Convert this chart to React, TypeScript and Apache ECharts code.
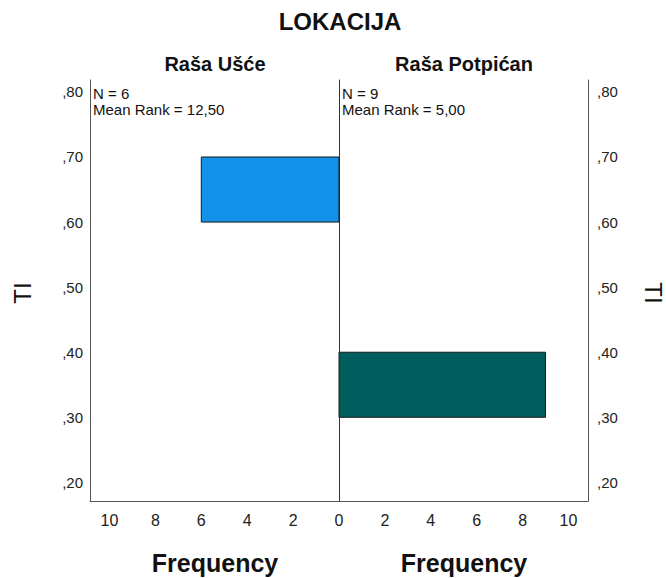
import React, { useEffect, useRef } from "react";
import * as echarts from "echarts";

// ---- data ----
const chartTitle = "LOKACIJA";
const groupNames = ["Raša Ušće", "Raša Potpićan"];
const groupN = [6, 9];
const meanRanks = ["12,50", "5,00"];
const yVarName = "TI";
const xAxisTitle = "Frequency";

// histogram bins: [frequency, binLow, binHigh]
const usceCounts = [6];
const usceBinLow = [0.6];
const usceBinHigh = [0.7];
const potpicanCounts = [9];
const potpicanBinLow = [0.3];
const potpicanBinHigh = [0.4];

const yTicks = [0.2, 0.3, 0.4, 0.5, 0.6, 0.7, 0.8];
const leftFreqTicks = [2, 4, 6, 8, 10];
const rightFreqTicks = [0, 2, 4, 6, 8, 10];

const Y_MIN = 0.1714;
const Y_MAX = 0.8183;
const X_MAX = 10.85;

const FONT = "'Liberation Sans', Arial, Helvetica, sans-serif";
const AXIS_COLOR = "#555";
const LABEL_COLOR = "#222";
const USCE_COLOR = "#1192e8";
const POTPICAN_COLOR = "#005d5d";

function rectRender(color: string) {
  return (params: any, api: any) => {
    const n = api.value(0);
    const lo = api.value(1);
    const hi = api.value(2);
    const p0 = api.coord([0, hi]);
    const p1 = api.coord([n, lo]);
    return {
      type: "rect",
      shape: {
        x: Math.min(p0[0], p1[0]),
        y: Math.min(p0[1], p1[1]),
        width: Math.abs(p1[0] - p0[0]),
        height: Math.abs(p1[1] - p0[1]),
      },
      style: { fill: color, stroke: "#1a1a1a", lineWidth: 1 },
    };
  };
}

const yLabelFmt = (v: number) => "," + v.toFixed(2).split(".")[1];

export default function App() {
  const ref = useRef<HTMLDivElement>(null);
  useEffect(() => {
    document.body.style.margin = "0";
    if (!ref.current) return;
    const chart = echarts.init(ref.current, null, { renderer: "svg" });

    const usceData = usceCounts.map((c, i) => [c, usceBinLow[i], usceBinHigh[i]]);
    const potData = potpicanCounts.map((c, i) => [c, potpicanBinLow[i], potpicanBinHigh[i]]);

    const xAxisCommon = {
      type: "value",
      min: 0,
      max: X_MAX,
      splitLine: { show: false },
      axisTick: { show: false },
      axisLine: { show: true, onZero: false, lineStyle: { color: AXIS_COLOR, width: 1 } },
    };

    const yAxisCommon = {
      type: "value",
      min: Y_MIN,
      max: Y_MAX,
      splitLine: { show: false },
      axisTick: { show: false },
    };

    const text = (x: number, y: number, t: string, font: string, align = "center", extra: any = {}) => ({
      type: "text",
      x,
      y,
      ...extra,
      style: { text: t, font, fill: "#111", align, verticalAlign: "middle" },
    });

    chart.setOption({
      animation: false,
      backgroundColor: "#fff",
      textStyle: { fontFamily: FONT },
      grid: [
        { left: 90, top: 80, width: 249, height: 421 },
        { left: 339, top: 80, width: 249, height: 421 },
      ],
      xAxis: [
        {
          ...xAxisCommon,
          gridIndex: 0,
          inverse: true,
          axisLabel: {
            customValues: leftFreqTicks,
            fontSize: 16,
            color: LABEL_COLOR,
            margin: 11,
            fontFamily: FONT,
          },
        },
        {
          ...xAxisCommon,
          gridIndex: 1,
          axisLabel: {
            customValues: rightFreqTicks,
            fontSize: 16,
            color: LABEL_COLOR,
            margin: 11,
            fontFamily: FONT,
          },
        },
      ],
      yAxis: [
        {
          ...yAxisCommon,
          gridIndex: 0,
          position: "left",
          axisLine: { show: true, onZero: false, lineStyle: { color: AXIS_COLOR, width: 1 } },
          axisLabel: {
            customValues: yTicks,
            formatter: yLabelFmt,
            fontSize: 15,
            color: LABEL_COLOR,
            margin: 7,
            fontFamily: FONT,
          },
        },
        {
          ...yAxisCommon,
          gridIndex: 1,
          position: "right",
          axisLine: { show: true, onZero: false, lineStyle: { color: AXIS_COLOR, width: 1 } },
          axisLabel: {
            customValues: yTicks,
            formatter: yLabelFmt,
            fontSize: 15,
            color: LABEL_COLOR,
            margin: 9,
            fontFamily: FONT,
          },
        },
        {
          ...yAxisCommon,
          gridIndex: 1,
          position: "left",
          axisLabel: { show: false },
          axisLine: { show: true, onZero: false, lineStyle: { color: "#333", width: 1 } },
        },
      ],
      series: [
        {
          type: "custom",
          xAxisIndex: 0,
          yAxisIndex: 0,
          renderItem: rectRender(USCE_COLOR),
          encode: { x: 0, y: [1, 2] },
          data: usceData,
        },
        {
          type: "custom",
          xAxisIndex: 1,
          yAxisIndex: 1,
          renderItem: rectRender(POTPICAN_COLOR),
          encode: { x: 0, y: [1, 2] },
          data: potData,
        },
      ],
      graphic: [
        text(340, 21, chartTitle, `bold 24px ${FONT}`),
        text(215, 64, groupNames[0], `bold 20px ${FONT}`),
        text(464, 64, groupNames[1], `bold 20px ${FONT}`),
        text(93, 93, `N = ${groupN[0]}`, `15px ${FONT}`, "left"),
        text(93, 109, `Mean Rank = ${meanRanks[0]}`, `15px ${FONT}`, "left"),
        text(342, 93, `N = ${groupN[1]}`, `15px ${FONT}`, "left"),
        text(342, 109, `Mean Rank = ${meanRanks[1]}`, `15px ${FONT}`, "left"),
        text(215, 563, xAxisTitle, `bold 25px ${FONT}`),
        text(464, 563, xAxisTitle, `bold 25px ${FONT}`),
        text(22, 293, yVarName, `24px ${FONT}`, "center", { rotation: Math.PI / 2 }),
        text(653, 293, yVarName, `24px ${FONT}`, "center", { rotation: -Math.PI / 2 }),
      ],
    });
    return () => chart.dispose();
  }, []);
  return <div ref={ref} style={{ width: 666, height: 578 }} />;
}
